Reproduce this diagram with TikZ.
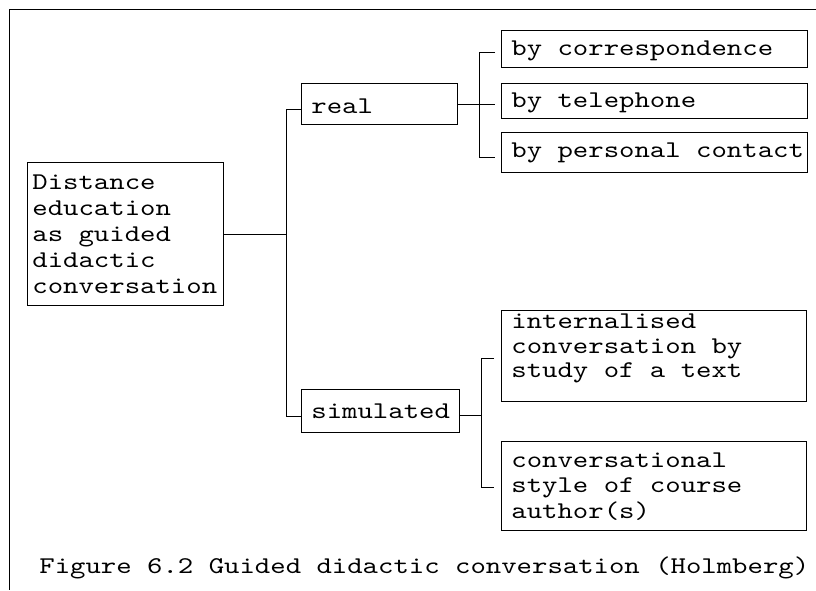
\documentclass[tikz,border=0pt]{standalone}
\usepackage{fontspec}
\newfontfamily\tw{lmmono10-regular}[Extension=.otf,FakeStretch=1.222]
\usetikzlibrary{calc}
\newcommand\bxt[6]{\parbox[c][#2][t]{#1}{\raggedright\leftskip=#3\relax\baselineskip=#4\relax\lineskiplimit=-30pt\rule{0pt}{#5}#6}}
\begin{document}
\begin{tikzpicture}[x=1pt,y=-1pt,line width=0.8pt,
  txt/.style={font=\fontsize{24}{26}\selectfont\tw},
  bx/.style={txt,draw,inner sep=0pt,anchor=north west},
  link/.style={draw,line width=0.8pt}]
\useasboundingbox (0,0) rectangle (816,590);
% frame
\draw (816,9) -- (9,9) -- (9,590);
% boxes
\node[bx] (main) at (27,162) {\bxt{196pt}{143pt}{5pt}{26pt}{27pt}{Distance\\education\\as guided\\didactic\\conversation}};
\node[bx] (real) at (301,83) {\bxt{156pt}{41pt}{10pt}{25pt}{30pt}{real}};
\node[bx] (sim) at (301,389) {\bxt{158pt}{43pt}{10pt}{25pt}{29pt}{simulated}};
\node[bx] (corr) at (501,30) {\bxt{306pt}{37pt}{10pt}{25pt}{25pt}{by correspondence}};
\node[bx] (tel) at (501,83) {\bxt{306pt}{35pt}{10pt}{25pt}{24pt}{by telephone}};
\node[bx] (pers) at (501,132) {\bxt{306pt}{40pt}{10pt}{25pt}{25pt}{by personal contact}};
\node[bx] (intern) at (501,310) {\bxt{305pt}{91pt}{10pt}{24.5pt}{18.5pt}{internalised\\conversation by\\study of a text}};
\node[bx] (conv) at (501,441) {\bxt{305pt}{89pt}{10pt}{25.5pt}{26pt}{conversational\\style of course\\author(s)}};
% caption
\node[txt,anchor=base west,inner sep=0pt] (cap) at (39,573) {Figure 6.2 Guided didactic conversation (Holmberg)};
% junctions
\coordinate (ja) at ($(real.west)+(-15,0)$);
\coordinate (jb) at ($(real.east)+(22,0)$);
\coordinate (jc) at ($(sim.east)+(22,0)$);
\coordinate (eb) at ($(corr.west)+(-6,0)$);
\coordinate (ec) at ($(intern.west)+(-7,0)$);
% left tree
\draw[link] (main.east) -- (main.east -| ja);
\draw[link] ($(real.west)+(0,5)$) -- ($(ja)+(0,5)$) |- ($(sim.west)+(0,5.5)$);
% real branch
\draw[link] (real.east) -- (real.east -| eb);
\draw[link] ($(corr.west -| eb)+(0,3.5)$) -- ($(corr.west -| jb)+(0,3.5)$) |- ($(pers.west -| eb)+(0,5)$);
% simulated branch
\draw[link] ($(sim.east)+(0,4.5)$) -- ($(jc)+(0,4.5)$);
\draw[link] ($(intern.west -| ec)+(0,2.5)$) -- ($(intern.west -| jc)+(0,2.5)$) |- ($(conv.west -| ec)+(0,1.5)$);
\end{tikzpicture}
\end{document}
